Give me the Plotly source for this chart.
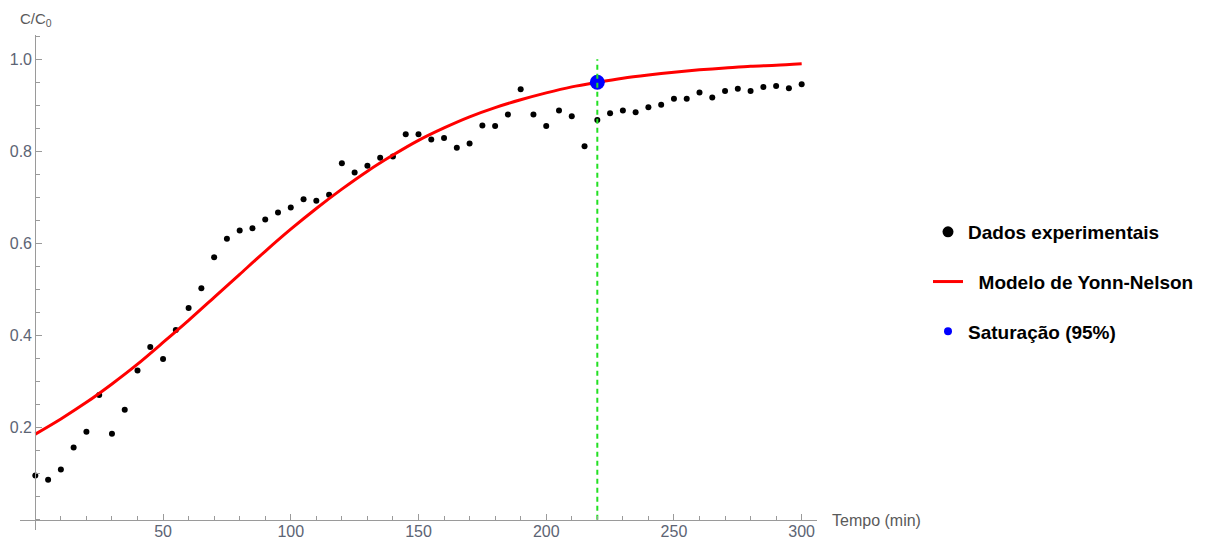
import plotly.graph_objects as go

# ---------------- data ----------------
tempo = [0, 5, 10, 15, 20, 25, 30, 35, 40, 45, 50, 55, 60, 65, 70, 75, 80, 85, 90, 95,
         100, 105, 110, 115, 120, 125, 130, 135, 140, 145, 150, 155, 160, 165, 170, 175,
         180, 185, 190, 195, 200, 205, 210, 215, 220, 225, 230, 235, 240, 245, 250, 255,
         260, 265, 270, 275, 280, 285, 290, 295, 300]
c_c0_exp = [0.096, 0.087, 0.109, 0.157, 0.191, 0.271, 0.187, 0.239, 0.324, 0.375,
            0.349, 0.412, 0.460, 0.503, 0.570, 0.610, 0.628, 0.633, 0.652, 0.667,
            0.678, 0.696, 0.693, 0.706, 0.774, 0.754, 0.769, 0.786, 0.789, 0.837,
            0.837, 0.826, 0.829, 0.808, 0.817, 0.856, 0.855, 0.880, 0.935, 0.880,
            0.855, 0.889, 0.876, 0.811, 0.868, 0.883, 0.889, 0.885, 0.896, 0.901,
            0.914, 0.914, 0.928, 0.917, 0.931, 0.936, 0.931, 0.940, 0.942, 0.937,
            0.946]

tempo_modelo = [0, 10, 20, 30, 40, 50, 60, 70, 80, 90, 100, 110, 120, 130, 140, 150,
                160, 170, 180, 190, 200, 210, 220, 230, 240, 250, 260, 270, 280, 290, 300]
c_c0_modelo = [0.186, 0.219, 0.255, 0.295, 0.338, 0.385, 0.433, 0.483, 0.533, 0.583,
               0.631, 0.676, 0.718, 0.757, 0.792, 0.824, 0.851, 0.875, 0.895, 0.912,
               0.927, 0.940, 0.950, 0.959, 0.966, 0.972, 0.977, 0.981, 0.985, 0.987,
               0.990]

sat_tempo = [220]
sat_valor = [0.95]
linha_sat_y = [0.0, 1.0]

x_ticks = [50, 100, 150, 200, 250, 300]
y_ticks = [0.2, 0.4, 0.6, 0.8, 1.0]
y_tick_text = ["0.2", "0.4", "0.6", "0.8", "1.0"]

legend_names = ["Dados experimentais", "\u00a0\u00a0Modelo de Yonn-Nelson", "Saturação (95%)"]

# ---------------- layout geometry ----------------
W, H = 1206, 540
ML, MR, MT, MB = 20, 389, 35, 10
XR = [-6, 306]
YR = [-0.0222, 1.0527]
PW, PH = W - ML - MR, H - MT - MB


def px_x(px):
    return (px - ML) / PW


def px_y(py):
    return (H - MB - py) / PH


axis_col = "#9a9a9a"
tick_font = dict(family="Liberation Sans, Arial", size=16, color="#5c6474")

fig = go.Figure()

fig.add_trace(go.Scatter(x=tempo, y=c_c0_exp, mode="markers",
                         marker=dict(color="black", size=6),
                         showlegend=False, hoverinfo="x+y"))
fig.add_trace(go.Scatter(x=tempo_modelo, y=c_c0_modelo, mode="lines",
                         line=dict(color="#ff0000", width=3, shape="spline", smoothing=0.8),
                         showlegend=False))
fig.add_trace(go.Scatter(x=sat_tempo, y=sat_valor, mode="markers",
                         marker=dict(color="#0000ff", size=15),
                         showlegend=False))
fig.add_trace(go.Scatter(x=sat_tempo * 2, y=linha_sat_y, mode="lines",
                         line=dict(color="#22e022", width=2, dash="5px,4px"),
                         showlegend=False, hoverinfo="skip"))

# legend entries
fig.add_trace(go.Scatter(x=[None], y=[None], mode="markers", name=legend_names[0],
                         marker=dict(color="black", size=11), legendgroup="a"))
fig.add_trace(go.Scatter(x=[None], y=[None], mode="lines", name=legend_names[1],
                         line=dict(color="#ff0000", width=3), legendgroup="b"))
fig.add_trace(go.Scatter(x=[None], y=[None], mode="markers", name=legend_names[2],
                         marker=dict(color="#0000ff", size=8), legendgroup="c"))

fig.update_layout(
    width=W, height=H,
    margin=dict(l=ML, r=MR, t=MT, b=MB, autoexpand=False),
    plot_bgcolor="white", paper_bgcolor="white",
    showlegend=True,
    legend=dict(xref="container", yref="container", x=928 / W, y=1 - 213 / H,
                xanchor="left", yanchor="top", traceorder="grouped", tracegroupgap=22,
                font=dict(family="Liberation Sans, Arial", size=19, color="black",
                          weight="bold"),
                bgcolor="rgba(0,0,0,0)", itemsizing="trace"),
    xaxis=dict(range=XR, anchor="free", position=(0 - YR[0]) / (YR[1] - YR[0]),
               automargin=False,
               showline=True, linecolor=axis_col, linewidth=1.2,
               showgrid=False, zeroline=False,
               tickmode="array", tickvals=x_ticks, ticks="inside", ticklen=6,
               tickcolor=axis_col, tickwidth=1, tickfont=tick_font,
               ticklabelstandoff=-3,
               minor=dict(dtick=10, tick0=0, ticks="inside", ticklen=4,
                          tickcolor=axis_col, showgrid=False)),
    yaxis=dict(range=YR, anchor="free", position=(0 - XR[0]) / (XR[1] - XR[0]),
               automargin=False,
               showline=True, linecolor=axis_col, linewidth=1.2,
               showgrid=False, zeroline=False,
               tickmode="array", tickvals=y_ticks, ticktext=y_tick_text,
               ticks="inside", ticklen=6,
               tickcolor=axis_col, tickwidth=1, tickfont=tick_font,
               minor=dict(dtick=0.05, tick0=0, ticks="inside", ticklen=4,
                          tickcolor=axis_col, showgrid=False)),
    annotations=[
        dict(text="C/C<sub>0</sub>", xref="paper", yref="paper",
             x=px_x(18), y=px_y(19), xanchor="left", yanchor="middle",
             showarrow=False, font=dict(family="Liberation Sans, Arial", size=15, color="#5a5a5a")),
        dict(text="Tempo (min)", xref="paper", yref="paper",
             x=px_x(830), y=px_y(520), xanchor="left", yanchor="middle",
             showarrow=False, font=dict(family="Liberation Sans, Arial", size=16, color="#5a5a5a")),
    ],
)

fig.write_html("out.html",
               config={"displayModeBar": False},
               post_script="document.body.style.margin='0px';document.body.style.overflow='hidden';")
